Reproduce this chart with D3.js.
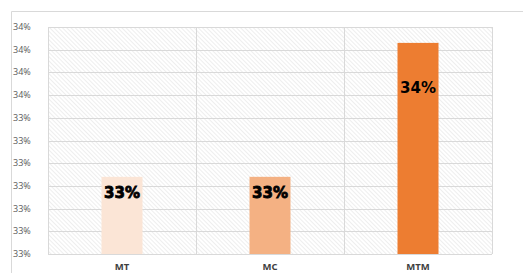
<!DOCTYPE html>
<html>
<head>
<meta charset="utf-8">
<script src="https://cdn.jsdelivr.net/npm/d3@7"></script>
<style>
  body { margin: 0; background: #fff; }
  svg { display: block; }
</style>
</head>
<body>
<div id="chart"></div>
<script>
// categories and values
var categories = ["MT", "MC", "MTM"];
var values = [0.33464, 0.33464, 0.33523];
var valueLabels = ["33%", "33%", "34%"];

// y axis ticks
var tickValues = [0.3343, 0.3344, 0.3345, 0.3346, 0.3347, 0.3348, 0.3349, 0.3350, 0.3351, 0.3352, 0.3353];
var tickLabels = ["33%", "33%", "33%", "33%", "33%", "33%", "33%", "34%", "34%", "34%", "34%"];

var colors = ["#fbe5d6", "#f4b183", "#ed7d31"];

var width = 523,
    height = 273;

var plot = { left: 48, right: 492, top: 27, bottom: 254 };

var svg = d3.select("#chart")
    .append("svg")
    .attr("width", width)
    .attr("height", height);

// hatch pattern for the plot background
var defs = svg.append("defs");
var pat = defs.append("pattern")
    .attr("id", "hatch")
    .attr("patternUnits", "userSpaceOnUse")
    .attr("width", 3)
    .attr("height", 3)
    .attr("patternTransform", "rotate(-45)");
pat.append("rect")
    .attr("width", 3).attr("height", 3).attr("fill", "#fff");
pat.append("line")
    .attr("x1", 0).attr("y1", 0).attr("x2", 0).attr("y2", 3)
    .attr("stroke", "#dedede")
    .attr("stroke-width", 1);

// chart area border
svg.append("path")
    .attr("d", "M11.5," + height + "V11.5H" + width)
    .attr("fill", "none")
    .attr("stroke", "#d9d9d9");

var x = d3.scaleBand()
    .domain(categories)
    .range([plot.left, plot.right])
    .paddingInner(0)
    .paddingOuter(0);

var y = d3.scaleLinear()
    .domain([tickValues[0], tickValues[tickValues.length - 1]])
    .range([plot.bottom, plot.top]);

svg.append("rect")
    .attr("x", plot.left)
    .attr("y", plot.top)
    .attr("width", plot.right - plot.left)
    .attr("height", plot.bottom - plot.top)
    .attr("fill", "url(#hatch)");

// horizontal gridlines
svg.append("g")
    .selectAll("line")
    .data(tickValues)
    .enter().append("line")
    .attr("x1", plot.left)
    .attr("x2", plot.right)
    .attr("y1", function (d) { return Math.round(y(d)) + 0.5; })
    .attr("y2", function (d) { return Math.round(y(d)) + 0.5; })
    .attr("stroke", "#d9d9d9");

// vertical gridlines at category boundaries
var bounds = categories.map(function (c) { return x(c); }).concat([plot.right]);
svg.append("g")
    .selectAll("line")
    .data(bounds)
    .enter().append("line")
    .attr("x1", function (d) { return Math.round(d) + 0.5; })
    .attr("x2", function (d) { return Math.round(d) + 0.5; })
    .attr("y1", plot.top)
    .attr("y2", plot.bottom)
    .attr("stroke", "#d9d9d9");

// y tick labels
svg.append("g")
    .selectAll("text")
    .data(tickValues)
    .enter().append("text")
    .attr("x", 13)
    .attr("y", function (d) { return y(d) + 3; })
    .attr("font-family", "Open Sans, DejaVu Sans, sans-serif")
    .attr("font-size", "9px")
    .attr("fill", "#595959")
    .text(function (d, i) { return tickLabels[i]; });

// bars
var barW = 41;
svg.append("g")
    .selectAll("rect")
    .data(values)
    .enter().append("rect")
    .attr("x", function (d, i) { return x(categories[i]) + x.bandwidth() / 2 - barW / 2; })
    .attr("y", function (d) { return y(d); })
    .attr("width", barW)
    .attr("height", function (d) { return plot.bottom - y(d); })
    .attr("fill", function (d, i) { return colors[i]; });

// data labels (placed by hand in the original)
var labelOffset = [21, 21, 50];
svg.append("g")
    .selectAll("text")
    .data(values)
    .enter().append("text")
    .attr("x", function (d, i) { return x(categories[i]) + x.bandwidth() / 2; })
    .attr("y", function (d, i) { return y(d) + labelOffset[i]; })
    .attr("text-anchor", "middle")
    .attr("font-family", "DejaVu Sans, sans-serif")
    .attr("font-weight", "bold")
    .attr("font-size", "15px")
    .attr("fill", "#000")
    .attr("stroke", function (d, i) { return i < 2 ? "#000" : "none"; })
    .attr("stroke-width", 0.8)
    .text(function (d, i) { return valueLabels[i]; });

// category labels
svg.append("g")
    .selectAll("text")
    .data(categories)
    .enter().append("text")
    .attr("x", function (d) { return x(d) + x.bandwidth() / 2; })
    .attr("y", 270)
    .attr("text-anchor", "middle")
    .attr("font-family", "Open Sans, DejaVu Sans, sans-serif")
    .attr("font-weight", "bold")
    .attr("font-size", "9.5px")
    .attr("fill", "#404040")
    .text(function (d) { return d; });
</script>
</body>
</html>
